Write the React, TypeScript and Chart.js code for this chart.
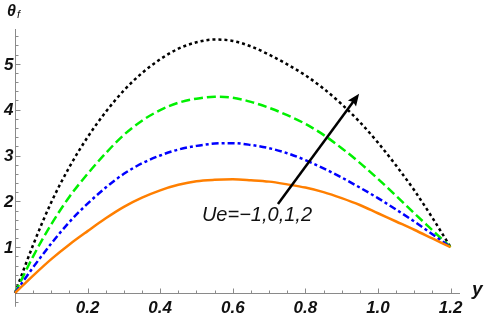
import React, { useEffect, useRef } from 'react';
import { Chart, registerables } from 'chart.js';

Chart.register(...registerables);

// ---- data ----
const yValues = [0, 0.05, 0.1, 0.15, 0.2, 0.25, 0.3, 0.35, 0.4, 0.45, 0.5, 0.55, 0.6, 0.65, 0.7, 0.75, 0.8, 0.85, 0.9, 0.95, 1.0, 1.05, 1.1, 1.15, 1.2];
const thetaUeMinus1 = [0, 0.38, 0.74, 1.06, 1.35, 1.63, 1.88, 2.08, 2.24, 2.36, 2.44, 2.47, 2.48, 2.46, 2.43, 2.37, 2.3, 2.2, 2.07, 1.92, 1.74, 1.56, 1.38, 1.19, 1.0];
const thetaUe0 = [0, 0.56, 1.08, 1.55, 1.95, 2.3, 2.6, 2.83, 3.0, 3.13, 3.21, 3.26, 3.27, 3.23, 3.16, 3.05, 2.9, 2.72, 2.52, 2.3, 2.07, 1.82, 1.56, 1.28, 1.0];
const thetaUe1 = [0, 0.8, 1.5, 2.1, 2.6, 3.05, 3.45, 3.76, 3.99, 4.15, 4.24, 4.28, 4.26, 4.17, 4.04, 3.88, 3.69, 3.45, 3.16, 2.84, 2.49, 2.12, 1.74, 1.37, 1.0];
const thetaUe2 = [0, 1.05, 1.98, 2.75, 3.4, 3.95, 4.42, 4.8, 5.1, 5.33, 5.47, 5.53, 5.5, 5.38, 5.2, 4.99, 4.75, 4.46, 4.12, 3.73, 3.28, 2.78, 2.24, 1.64, 1.0];

const xTickValues = [0.2, 0.4, 0.6, 0.8, 1.0, 1.2];
const xTickLabels = ['0.2', '0.4', '0.6', '0.8', '1.0', '1.2'];
const yTickValues = [1, 2, 3, 4, 5];
const yTickLabels = ['1', '2', '3', '4', '5'];

const xAxisMax = 1.226;
const yAxisMax = 5.76;
const yAxisMin = -0.3;

const arrowTail = [0.7245, 1.94];
const arrowHead = [0.948, 4.345];
const annotationText = 'Ue=\u22121,0,1,2';
const annotationAt = [0.515, 1.69];
const xAxisTitle = 'y';
const yAxisTitle = '\u03B8';
const yAxisTitleSub = 'f';

const FONT = '"Liberation Sans", Arial, sans-serif';
const TICK_FONT = 'italic bold 17px ' + FONT;

const axesPlugin = {
  id: 'mmaAxes',
  beforeDatasetsDraw(chart: any) {
    const { ctx, scales } = chart;
    const xs = scales.x;
    const ys = scales.y;
    const x0 = Math.round(xs.getPixelForValue(0)) + 0.5;
    const y0 = Math.round(ys.getPixelForValue(0)) + 0.5;
    ctx.save();
    ctx.strokeStyle = '#8a8a8a';
    ctx.lineWidth = 1;
    ctx.beginPath();
    ctx.moveTo(x0, y0);
    ctx.lineTo(xs.getPixelForValue(xAxisMax), y0);
    ctx.moveTo(x0, ys.getPixelForValue(yAxisMin));
    ctx.lineTo(x0, ys.getPixelForValue(yAxisMax));
    for (let i = 1; i <= 24; i++) {
      const v = i * 0.05;
      const px = Math.round(xs.getPixelForValue(v)) + 0.5;
      const len = i % 4 === 0 ? 5 : 3;
      ctx.moveTo(px, y0);
      ctx.lineTo(px, y0 - len);
    }
    for (let i = -1; i <= 28; i++) {
      if (i === 0) continue;
      const v = i * 0.2;
      const py = Math.round(ys.getPixelForValue(v)) + 0.5;
      const len = i % 5 === 0 ? 5 : 3;
      ctx.moveTo(x0, py);
      ctx.lineTo(x0 + len, py);
    }
    ctx.stroke();

    // tick labels, placed with the scales
    ctx.fillStyle = '#111';
    ctx.font = TICK_FONT;
    ctx.textAlign = 'center';
    ctx.textBaseline = 'alphabetic';
    xTickValues.forEach((v, i) => {
      ctx.fillText(xTickLabels[i], xs.getPixelForValue(v), y0 + 19);
    });
    ctx.textAlign = 'right';
    ctx.textBaseline = 'middle';
    yTickValues.forEach((v, i) => {
      ctx.fillText(yTickLabels[i], x0 - 2, ys.getPixelForValue(v) + 1);
    });
    ctx.restore();
  },
  afterDatasetsDraw(chart: any) {
    const { ctx, scales } = chart;
    const xs = scales.x;
    const ys = scales.y;
    ctx.save();
    const tx = xs.getPixelForValue(arrowTail[0]);
    const ty = ys.getPixelForValue(arrowTail[1]);
    const hx = xs.getPixelForValue(arrowHead[0]);
    const hy = ys.getPixelForValue(arrowHead[1]);
    const ang = Math.atan2(hy - ty, hx - tx);
    const headLen = 12;
    const headW = 5;
    const bx = hx - headLen * Math.cos(ang);
    const by = hy - headLen * Math.sin(ang);
    ctx.strokeStyle = '#000';
    ctx.fillStyle = '#000';
    ctx.lineWidth = 2.5;
    ctx.beginPath();
    ctx.moveTo(tx, ty);
    ctx.lineTo(bx + 3 * Math.cos(ang), by + 3 * Math.sin(ang));
    ctx.stroke();
    ctx.beginPath();
    ctx.moveTo(hx, hy);
    ctx.lineTo(bx - headW * Math.sin(ang), by + headW * Math.cos(ang));
    ctx.lineTo(bx + 2 * Math.cos(ang), by + 2 * Math.sin(ang));
    ctx.lineTo(bx + headW * Math.sin(ang), by - headW * Math.cos(ang));
    ctx.closePath();
    ctx.fill();
    ctx.font = 'italic 20px ' + FONT;
    ctx.fillStyle = '#111';
    ctx.textAlign = 'left';
    ctx.textBaseline = 'middle';
    ctx.fillText(annotationText, xs.getPixelForValue(annotationAt[0]), ys.getPixelForValue(annotationAt[1]));
    const x0 = xs.getPixelForValue(0);
    const yTop = ys.getPixelForValue(yAxisMax);
    ctx.textBaseline = 'alphabetic';
    ctx.font = 'italic bold 16px ' + FONT;
    ctx.fillText(yAxisTitle, x0 - 8, yTop - 13);
    ctx.font = 'italic 11px ' + FONT;
    ctx.fillText(yAxisTitleSub, x0 + 2, yTop - 11);
    ctx.font = 'italic bold 19px ' + FONT;
    ctx.fillText(xAxisTitle, xs.getPixelForValue(xAxisMax) + 12, ys.getPixelForValue(0) + 2);
    ctx.restore();
  },
};

export default function App() {
  const ref = useRef<HTMLCanvasElement | null>(null);
  useEffect(() => {
    if (!ref.current) return;
    const mk = (vals: number[]) => yValues.map((x, i) => ({ x, y: vals[i] }));
    const common = { pointRadius: 0, borderWidth: 2.5, fill: false, cubicInterpolationMode: 'monotone' as const, clip: false as any, borderCapStyle: 'butt' as const };
    const chart = new Chart(ref.current, {
      type: 'line',
      data: {
        datasets: [
          { ...common, label: 'Ue=-1', data: mk(thetaUeMinus1), borderColor: '#ff7f00' },
          { ...common, label: 'Ue=0', data: mk(thetaUe0), borderColor: '#0000ff', borderDash: [7, 3, 3, 3] },
          { ...common, label: 'Ue=1', data: mk(thetaUe1), borderColor: '#00f000', borderDash: [9, 4] },
          { ...common, label: 'Ue=2', data: mk(thetaUe2), borderColor: '#000000', borderDash: [3, 3] },
        ],
      },
      options: {
        responsive: false,
        animation: false,
        layout: { padding: { top: 29, right: 24, left: 0, bottom: 0 } },
        plugins: { legend: { display: false }, tooltip: { enabled: false } },
        scales: {
          x: {
            type: 'linear',
            min: 0,
            max: xAxisMax,
            grid: { display: false, drawTicks: false },
            border: { display: false },
            ticks: { display: false },
            afterFit: (s: any) => { s.height = 23; },
          },
          y: {
            type: 'linear',
            min: 0,
            max: yAxisMax,
            grid: { display: false, drawTicks: false },
            border: { display: false },
            ticks: { display: false },
            afterFit: (s: any) => { s.width = 15; },
          },
        },
      },
      plugins: [axesPlugin],
    });
    return () => chart.destroy();
  }, []);
  return (
    <div style={{ position: 'absolute', left: 0, top: 0, width: 484, height: 316, background: '#fff' }}>
      <canvas ref={ref} width={484} height={316} style={{ width: 484, height: 316, display: 'block' }} />
    </div>
  );
}
